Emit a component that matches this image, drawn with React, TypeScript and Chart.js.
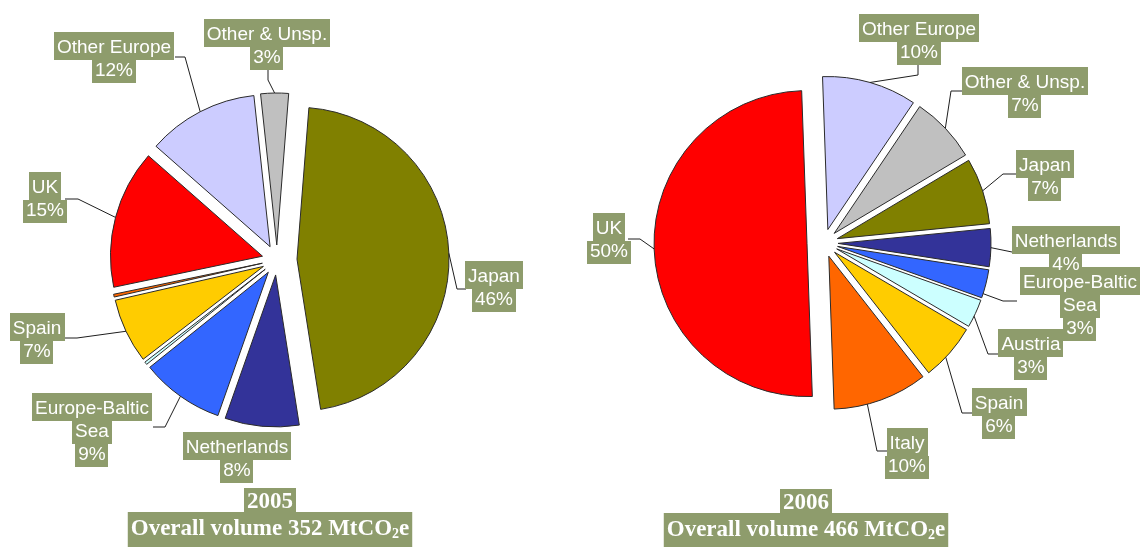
import React, { useEffect, useRef } from "react";
import { Chart, registerables } from "chart.js";

Chart.register(...registerables);

// ---------- data ----------
const categories2005 = ["Japan", "Netherlands", "Europe-Baltic\nSea", "Austria", "Spain", "Italy", "UK", "Other Europe", "Other & Unsp."];
const values2005 = [47, 8, 9, 0.3, 7, 0.3, 15, 12, 3];

const categories2006 = ["Other Europe", "Other & Unsp.", "Japan", "Netherlands", "Europe-Baltic\nSea", "Austria", "Spain", "Italy", "UK"];
const values2006 = [10, 7, 7, 4, 3, 3, 6, 10, 50];

const years = ["2005", "2006"];
const volumes = [352, 466];

// ---------- styles ----------
const COLORS: Record<string, string> = {
  "Japan": "#808000",
  "Netherlands": "#333399",
  "Europe-Baltic\nSea": "#3366FF",
  "Austria": "#CCFFFF",
  "Spain": "#FFCC00",
  "Italy": "#FF6600",
  "UK": "#FF0000",
  "Other Europe": "#CCCCFF",
  "Other & Unsp.": "#C0C0C0",
};
const BOX = "#8E9C6C";
const W = 1141;
const H = 547;

type LabelPos = { x: number; y: number; path: number[][]; at?: number } | null;

// label layout in page coordinates (same order as the categories)
const labelLayout2005: LabelPos[] = [
  { x: 494, y: 282, path: [[466, 289], [457, 289]] },
  { x: 237, y: 453, path: [] },
  { x: 92, y: 414, path: [[153, 427], [165, 427]] },
  null,
  { x: 37, y: 334, path: [[63, 338], [77, 338]] },
  null,
  { x: 45, y: 193, path: [[65, 199], [78, 199]] },
  { x: 114, y: 53, path: [[175, 57], [185, 57]] },
  { x: 267, y: 40, path: [[268, 70], [268, 80]] },
];
const labelLayout2006: LabelPos[] = [
  { x: 919, y: 35, path: [[918, 64], [918, 75]] },
  { x: 1025, y: 88, path: [[963, 91], [951, 91]] },
  { x: 1045, y: 171, path: [[1017, 174], [1003, 174]] },
  { x: 1066, y: 247, path: [[1012, 252]] },
  { x: 1080, y: 288, path: [[1017, 301], [1003, 301]], at: 0.85 },
  { x: 1031, y: 350, path: [[999, 354], [988, 354]], at: 0.6 },
  { x: 999, y: 409, path: [[973, 413], [962, 413]], at: 0.6 },
  { x: 907, y: 449, path: [[888, 451], [877, 451]], at: 0.65 },
  { x: 609, y: 234, path: [[628, 239], [640, 239]] },
];

const panels = [
  {
    categories: categories2005, values: values2005, layout: labelLayout2005,
    left: 0, width: 570, cx: 277, cy: 260, r: 152, rotation: 4.5,
    explode: { big: "Japan", bigD: 20, d: 15 },
    title: { x: 270, y1: 508, y2: 535 }, idx: 0,
  },
  {
    categories: categories2006, values: values2006, layout: labelLayout2006,
    left: 570, width: 571, cx: 824, cy: 243, r: 153, rotation: -2,
    explode: { big: "UK", bigD: 17, d: 14 },
    title: { x: 806, y1: 509, y2: 536 }, idx: 1,
  },
];

function makePlugin(p: any) {
  return {
    id: "piecustom" + p.idx,
    afterDatasetUpdate(chart: any, args: any) {
      const meta = chart.getDatasetMeta(args.index);
      meta.data.forEach((arc: any, i: number) => {
        const mid = (arc.startAngle + arc.endAngle) / 2;
        const d = p.categories[i] === p.explode.big ? p.explode.bigD : p.explode.d;
        arc.x += Math.cos(mid) * d;
        arc.y += Math.sin(mid) * d;
      });
    },
    afterDraw(chart: any) {
      const ctx = chart.ctx;
      const meta = chart.getDatasetMeta(0);
      const total = p.values.reduce((a: number, b: number) => a + b, 0);
      const ox = p.left;
      ctx.save();
      // leader lines
      ctx.strokeStyle = "#1e1e1e";
      ctx.lineWidth = 1;
      p.layout.forEach((lp: LabelPos, i: number) => {
        if (!lp || lp.path.length === 0) return;
        const arc = meta.data[i];
        const f = lp.at ?? 0.5;
        const a = arc.startAngle + f * (arc.endAngle - arc.startAngle);
        const ex = arc.x + Math.cos(a) * arc.outerRadius;
        const ey = arc.y + Math.sin(a) * arc.outerRadius;
        ctx.beginPath();
        ctx.moveTo(lp.path[0][0] - ox, lp.path[0][1]);
        for (let k = 1; k < lp.path.length; k++) ctx.lineTo(lp.path[k][0] - ox, lp.path[k][1]);
        ctx.lineTo(ex, ey);
        ctx.stroke();
      });
      // label boxes then text
      ctx.font = '19px "Liberation Sans", Arial, sans-serif';
      ctx.textAlign = "center";
      ctx.textBaseline = "alphabetic";
      const items: any[] = [];
      p.layout.forEach((lp: LabelPos, i: number) => {
        if (!lp) return;
        const pct = Math.round((p.values[i] / total) * 100) + "%";
        const lines = [...p.categories[i].split("\n"), pct];
        lines.forEach((t: string, k: number) => {
          items.push({ t, x: lp.x - ox, b: lp.y + k * 23, first: k === 0 });
        });
      });
      ctx.fillStyle = BOX;
      items.forEach((it) => {
        const w = ctx.measureText(it.t).width;
        const top = it.b - (it.first ? 21 : 16);
        ctx.fillRect(Math.round(it.x - w / 2 - 3), top, Math.round(w + 6), it.b + 7 - top);
      });
      ctx.fillStyle = "#FFFFFF";
      items.forEach((it) => ctx.fillText(it.t, it.x, it.b));

      // title
      const tx = p.title.x - ox;
      const big = 'bold 23px "Liberation Serif", "Times New Roman", serif';
      const small = 'bold 14px "Liberation Serif", "Times New Roman", serif';
      const line1 = years[p.idx];
      const line2 = `Overall volume ${volumes[p.idx]} MtCO₂e`;
      const parts = line2.split("₂");
      ctx.font = big;
      const w1 = ctx.measureText(line1).width;
      const wa = ctx.measureText(parts[0]).width;
      const wc = ctx.measureText(parts[1]).width;
      ctx.font = small;
      const wb = ctx.measureText("2").width;
      const w2 = wa + wb + wc;
      ctx.fillStyle = BOX;
      ctx.fillRect(tx - w1 / 2 - 3, p.title.y1 - 20, w1 + 6, p.title.y2 - 23 - (p.title.y1 - 20));
      ctx.fillRect(tx - w2 / 2 - 3, p.title.y2 - 23, w2 + 6, 40);
      ctx.fillStyle = "#FFFFFF";
      ctx.textAlign = "center";
      ctx.font = big;
      ctx.fillText(line1, tx, p.title.y1);
      ctx.textAlign = "left";
      let sx = tx - w2 / 2;
      ctx.fillText(parts[0], sx, p.title.y2);
      sx += wa;
      ctx.font = small;
      ctx.fillText("2", sx, p.title.y2 + 3);
      sx += wb;
      ctx.font = big;
      ctx.fillText(parts[1], sx, p.title.y2);
      ctx.restore();
    },
  };
}

function PiePanel({ p }: { p: any }) {
  const ref = useRef<HTMLCanvasElement | null>(null);
  useEffect(() => {
    if (!ref.current) return;
    const padRight = p.width - 2 * (p.cx - p.left);
    const padBottom = H - 2 * p.cy;
    const chart = new Chart(ref.current, {
      type: "pie",
      data: {
        labels: p.categories,
        datasets: [
          {
            data: p.values,
            backgroundColor: p.categories.map((c: string) => COLORS[c]),
            borderColor: "#2a2a2a",
            borderWidth: 1,
            borderJoinStyle: "miter",
            radius: p.r,
            rotation: p.rotation,
          } as any,
        ],
      },
      options: {
        responsive: false,
        animation: false,
        devicePixelRatio: 1,
        radius: p.r,
        rotation: p.rotation,
        layout: { padding: { left: 0, top: 0, right: padRight, bottom: padBottom } },
        plugins: { legend: { display: false }, tooltip: { enabled: false }, title: { display: false } },
        events: [],
      } as any,
      plugins: [makePlugin(p)],
    });
    return () => chart.destroy();
  }, []);
  return (
    <canvas
      ref={ref}
      width={p.width}
      height={H}
      style={{ position: "absolute", left: p.left, top: 0, width: p.width, height: H }}
    />
  );
}

export default function App() {
  return (
    <div style={{ position: "absolute", left: 0, top: 0, width: W, height: H, background: "#fff", overflow: "hidden" }}>
      {panels.map((p) => (
        <PiePanel key={p.idx} p={p} />
      ))}
    </div>
  );
}
